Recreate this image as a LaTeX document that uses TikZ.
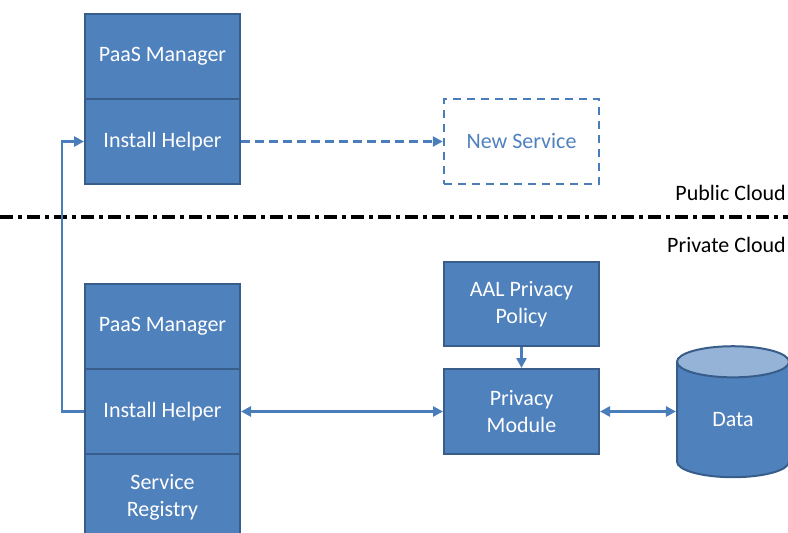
\documentclass[tikz,border=0pt]{standalone}
\usepackage{fontspec}
\setmainfont{Carlito}
\usepackage{tikz}
\usetikzlibrary{arrows.meta, shapes.geometric}

\definecolor{boxfill}{HTML}{4F81BD}
\definecolor{boxline}{HTML}{385D8A}
\definecolor{arrowline}{HTML}{4A7EBB}
\definecolor{datatop}{HTML}{95B3D7}

\tikzset{
    blockbox/.style={draw=boxline, line width=2pt, fill=boxfill, text=white, align=center,
        minimum width=155pt, minimum height=85pt, inner sep=0pt, font=\fontsize{22}{27}\selectfont},
    newbox/.style={draw=arrowline, line width=2.5pt, dash pattern=on 8pt off 6pt, text=boxfill,
        minimum width=155pt, minimum height=85pt, inner sep=0pt, font=\fontsize{22}{27}\selectfont},
    conn/.style={draw=arrowline, line width=2.5pt, -{Triangle[length=10pt,width=10pt]}},
    both/.style={conn, {Triangle[length=10pt,width=10pt]}-{Triangle[length=10pt,width=10pt]}},
    cloudline/.style={line width=4pt, dash pattern=on 13pt off 5pt on 4pt off 5pt},
    cloudlabel/.style={inner sep=0pt, font=\fontsize{22}{26}\selectfont},
}

\begin{document}
\begin{tikzpicture}[x=1pt,y=-1pt]
    \useasboundingbox (0,0) rectangle (788,533);

    %パブリック側
    \node[blockbox] (pmpub) at (162.5,56) {PaaS Manager};
    \node[blockbox] (ihpub) at (162.5,141.5) {Install Helper};
    \node[newbox] (newsvc) at (521.5,141.5) {New Service};

    %境界線とラベル
    \coordinate (lineL) at (0,217);
    \coordinate (lineR) at (790,217);
    \draw[cloudline] (lineL) -- (lineR);
    \node[cloudlabel, anchor=east] (pub) at (786,193) {Public Cloud};
    \node[cloudlabel, anchor=east] (priv) at (786,245) {Private Cloud};

    %プライベート側
    \node[blockbox] (pmpriv) at (162.5,326.5) {PaaS Manager};
    \node[blockbox] (ihpriv) at (162.5,411.5) {Install Helper};
    \node[blockbox, minimum height=86pt] (reg) at (162.5,497) {Service\\Registry};
    \node[blockbox, minimum height=84pt] (aal) at (521.5,304) {AAL Privacy\\Policy};
    \node[blockbox] (privmod) at (521.5,411.5) {Privacy\\Module};
    \node[draw=boxline, line width=2pt, shape=cylinder, shape border rotate=90, aspect=0.75,
        cylinder uses custom fill, cylinder body fill=boxfill, cylinder end fill=datatop,
        minimum width=112pt, minimum height=131pt, text=white, inner sep=0pt,
        font=\fontsize{22}{27}\selectfont] (data) at (733,420) {\raisebox{-8pt}{Data}};

    %矢印
    \draw[conn] (ihpriv.west) -- ++(-22,0) |- (ihpub.west); %下から上へ回り込む
    \draw[conn, dash pattern=on 9pt off 5pt] (ihpub.east) -- (newsvc.west);
    \draw[both] (ihpriv.east) -- (privmod.west);
    \draw[conn] (aal.south) -- (privmod.north);
    \draw[both] (privmod.east) -- (privmod.east -| data.west);
\end{tikzpicture}
\end{document}
